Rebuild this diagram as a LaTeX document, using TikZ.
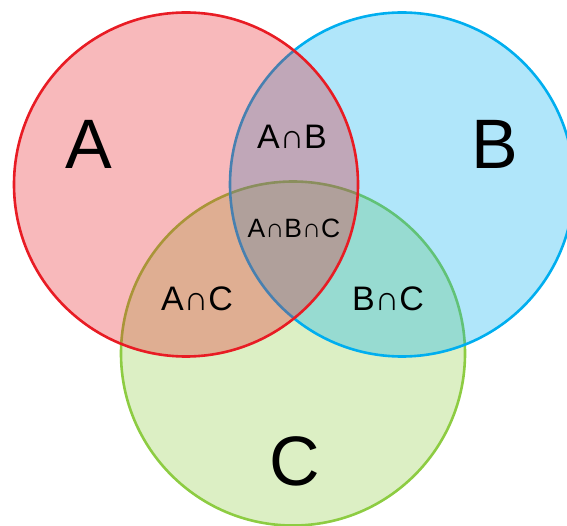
\documentclass[tikz,border=0pt]{standalone}
\usepackage{fontspec}
\setmainfont{Liberation Sans}
\definecolor{cred}{RGB}{232,28,36}
\definecolor{cblue}{RGB}{0,174,239}
\definecolor{cgreen}{RGB}{141,204,66}
\tikzset{
  setcircle/.style={line width=2.6pt, fill opacity=0.31},
  bigl/.style={inner sep=0pt, anchor=base, font=\fontsize{70}{70}\selectfont},
  midl/.style={inner sep=0pt, anchor=base, font=\fontsize{34}{34}\selectfont},
  smalll/.style={inner sep=0pt, anchor=base, font=\fontsize{26.5}{26.5}\selectfont}
}
\begin{document}
\begin{tikzpicture}[x=1pt,y=-1pt]
\useasboundingbox (0,0) rectangle (567,526);
\path[setcircle, draw=cgreen, fill=cgreen] (293,353.5) circle (172);
\path[setcircle, draw=cblue, fill=cblue] (402,184.5) circle (172);
\path[setcircle, draw=cred, fill=cred] (186,184.5) circle (172);
\node[bigl] (la) at (88.5,169) {A};
\node[bigl] (lb) at (494.5,168.5) {B};
\node[bigl] (lc) at (295,485) {C};
\node[midl] (lab) at (292,149) {A∩B};
\node[smalll] (labc) at (294,238) {A∩B∩C};
\node[midl] (lac) at (197,310) {A∩C};
\node[midl] (lbc) at (388,310) {B∩C};
\end{tikzpicture}
\end{document}
